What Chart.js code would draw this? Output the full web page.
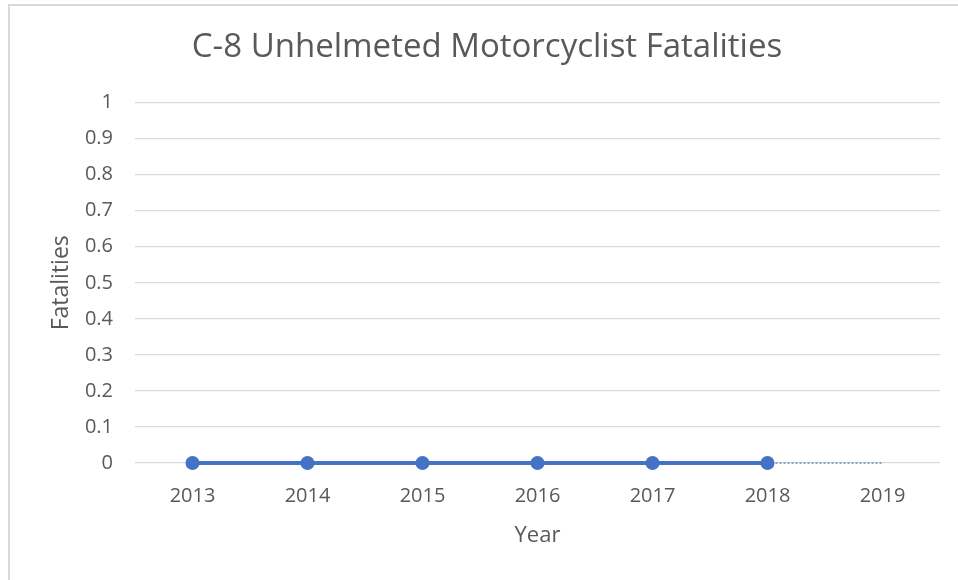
<!DOCTYPE html>
<html>
<head>
<meta charset="utf-8">
<script src="https://cdn.jsdelivr.net/npm/chart.js@4"></script>
<style>
  body { margin: 0; background: #fff; }
  #wrap { position: relative; width: 958px; height: 580px; overflow: hidden; }
  #frame { position: absolute; left: 8px; top: 4px; width: 1000px; height: 700px; border: 2px solid #d9d9d9; box-sizing: border-box; }
  canvas { position: absolute; left: 0; top: 0; }
</style>
</head>
<body>
<div id="wrap">
  <div id="frame"></div>
  <canvas id="chart" width="958" height="580"></canvas>
</div>
<script>
// values
var years = ['2013', '2014', '2015', '2016', '2017', '2018', '2019'];
var fatalities = [0, 0, 0, 0, 0, 0, null];
var trend = [null, null, null, null, null, 0, 0];

var grey = '#595959';
var blue = '#4472C4';
var font = '"Open Sans", sans-serif';

var ctx = document.getElementById('chart').getContext('2d');
new Chart(ctx, {
    type: 'line',
    data: {
        labels: years,
        datasets: [
            {
                label: 'Fatalities',
                data: fatalities,
                borderColor: blue,
                backgroundColor: blue,
                borderWidth: 4,
                pointRadius: 7,
                pointHoverRadius: 7,
                pointBorderWidth: 0,
                clip: false
            },
            {
                label: 'Trend',
                data: trend,
                borderColor: blue,
                borderWidth: 1.2,
                borderDash: [2, 2],
                pointRadius: 0,
                clip: false
            }
        ]
    },
    options: {
        responsive: false,
        animation: false,
        layout: { padding: { left: 34, right: 18, top: 0, bottom: 31 } },
        plugins: {
            legend: { display: false },
            tooltip: { enabled: false },
            title: {
                display: true,
                text: 'C-8 Unhelmeted Motorcyclist Fatalities',
                color: grey,
                font: { family: font, size: 33, weight: 'normal' },
                padding: { top: 28, bottom: 35 }
            }
        },
        scales: {
            x: {
                offset: true,
                grid: { display: false, drawTicks: false },
                border: { display: false },
                ticks: { color: grey, font: { family: font, size: 20 }, padding: 21, maxRotation: 0 },
                title: { display: true, text: 'Year', color: grey, font: { family: font, size: 22 }, padding: 0 },
                afterFit: function (scale) { scale.height = 86; }
            },
            y: {
                min: 0,
                max: 1,
                ticks: {
                    stepSize: 0.1,
                    color: grey,
                    font: { family: font, size: 20 },
                    padding: 22,
                    callback: function (v) { return String(Math.round(v * 10) / 10); }
                },
                grid: { color: '#d9d9d9', lineWidth: 1.3, drawTicks: false },
                border: { display: false },
                title: { display: true, text: 'Fatalities', color: grey, font: { family: font, size: 23 }, padding: { top: 14, bottom: 0 } },
                afterFit: function (scale) { scale.width = 101; }
            }
        }
    }
});
</script>
</body>
</html>
